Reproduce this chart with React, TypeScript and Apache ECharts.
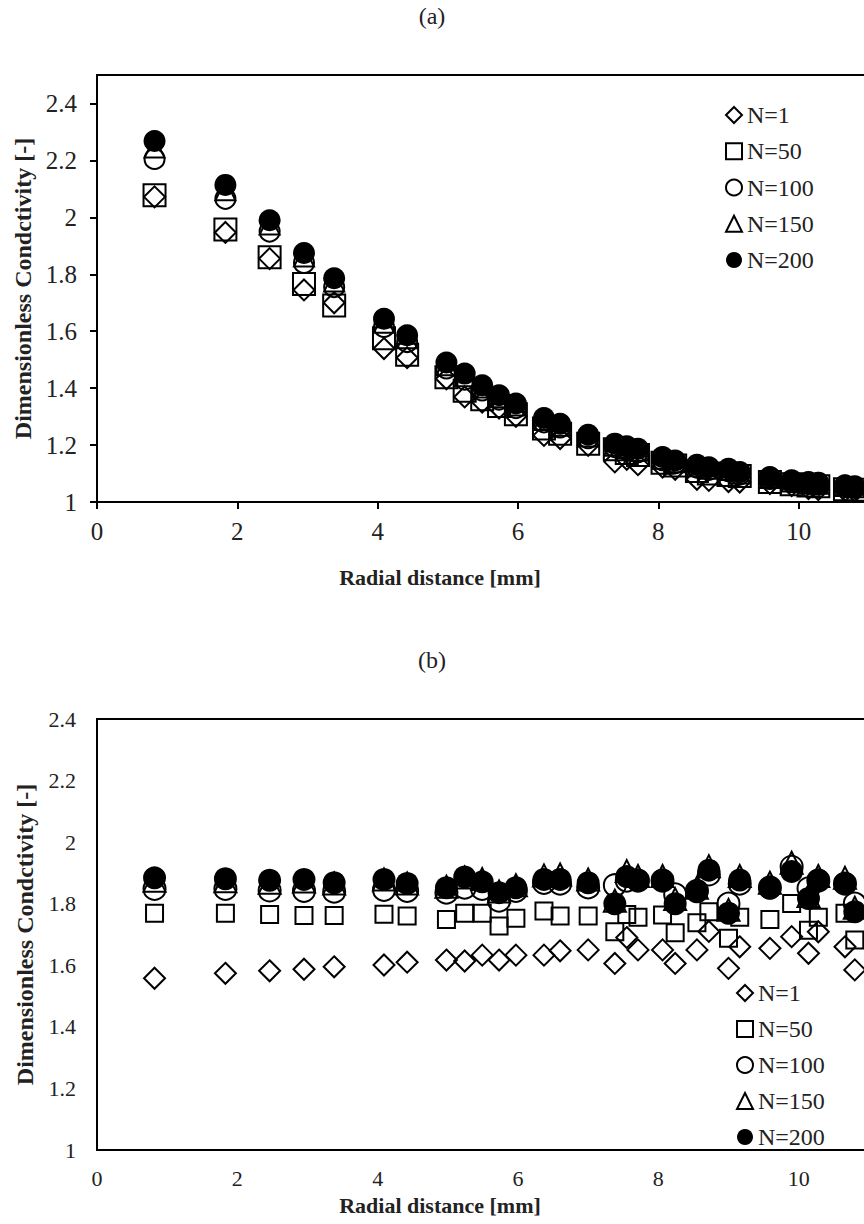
import React, { useEffect, useRef } from "react";
import * as echarts from "echarts";

// Radial distance [mm] of the measurement points (shared by both panels)
const radialDistance = [
  0.82, 1.83, 2.46, 2.95, 3.38, 4.09, 4.42, 4.98, 5.24, 5.49,
  5.73, 5.97, 6.37, 6.6, 7.0, 7.38, 7.55, 7.71, 8.06, 8.24,
  8.55, 8.72, 9.0, 9.16, 9.59, 9.9, 10.14, 10.28, 10.66, 10.8,
];

const seriesNames = ["N=1", "N=50", "N=100", "N=150", "N=200"];
const yTicks = [1, 1.2, 1.4, 1.6, 1.8, 2, 2.2, 2.4];
const xTicks = [0, 2, 4, 6, 8, 10];

// Panel (a)
const condA_N1 = [
  2.072, 1.947, 1.855, 1.745, 1.7, 1.539, 1.507, 1.433, 1.369, 1.351,
  1.33, 1.301, 1.234, 1.223, 1.199, 1.141, 1.15, 1.131, 1.123, 1.115,
  1.08, 1.076, 1.072, 1.07, 1.065, 1.058, 1.047, 1.044, 1.04, 1.038,
];
const condA_N50 = [
  2.078, 1.957, 1.86, 1.766, 1.69, 1.575, 1.517, 1.438, 1.391, 1.361,
  1.337, 1.308, 1.258, 1.24, 1.205, 1.185, 1.172, 1.165, 1.138, 1.128,
  1.109, 1.1, 1.095, 1.091, 1.07, 1.062, 1.058, 1.055, 1.045, 1.043,
];
const condA_N100 = [
  2.205, 2.065, 1.95, 1.84, 1.755, 1.615, 1.562, 1.469, 1.43, 1.392,
  1.36, 1.33, 1.28, 1.262, 1.224, 1.193, 1.184, 1.175, 1.147, 1.136,
  1.121, 1.113, 1.108, 1.097, 1.081, 1.07, 1.064, 1.062, 1.054, 1.05,
];
const condA_N150 = [
  2.245, 2.095, 1.975, 1.862, 1.775, 1.63, 1.575, 1.48, 1.442, 1.402,
  1.368, 1.339, 1.288, 1.268, 1.23, 1.198, 1.19, 1.18, 1.152, 1.14,
  1.126, 1.117, 1.112, 1.1, 1.084, 1.072, 1.066, 1.064, 1.056, 1.052,
];
const condA_N200 = [
  2.268, 2.114, 1.99, 1.875, 1.786, 1.644, 1.586, 1.49, 1.451, 1.41,
  1.375, 1.346, 1.295, 1.275, 1.236, 1.205, 1.196, 1.187, 1.158, 1.146,
  1.131, 1.122, 1.117, 1.105, 1.088, 1.076, 1.07, 1.068, 1.059, 1.055,
];

// Panel (b)
const condB_N1 = [
  1.558, 1.574, 1.582, 1.587, 1.595, 1.601, 1.61, 1.617, 1.614, 1.633,
  1.617, 1.633, 1.633, 1.647, 1.65, 1.606, 1.69, 1.65, 1.65, 1.606,
  1.65, 1.71, 1.59, 1.66, 1.655, 1.693, 1.639, 1.709, 1.66, 1.585,
];
const condB_N50 = [
  1.769, 1.769, 1.765, 1.762, 1.762, 1.766, 1.76, 1.749, 1.769, 1.769,
  1.728, 1.753, 1.776, 1.76, 1.76, 1.709, 1.765, 1.756, 1.763, 1.706,
  1.738, 1.774, 1.688, 1.756, 1.749, 1.801, 1.714, 1.756, 1.769, 1.682,
];
const condB_N100 = [
  1.848, 1.848, 1.843, 1.842, 1.839, 1.845, 1.842, 1.836, 1.852, 1.848,
  1.81, 1.842, 1.868, 1.865, 1.853, 1.86, 1.875, 1.875, 1.875, 1.83,
  1.842, 1.895, 1.8, 1.865, 1.853, 1.92, 1.85, 1.875, 1.865, 1.8,
];
const condB_N150 = [
  1.875, 1.873, 1.868, 1.872, 1.866, 1.879, 1.866, 1.855, 1.885, 1.88,
  1.84, 1.86, 1.892, 1.895, 1.879, 1.81, 1.906, 1.89, 1.89, 1.815,
  1.852, 1.922, 1.78, 1.89, 1.868, 1.933, 1.825, 1.89, 1.884, 1.787,
];
const condB_N200 = [
  1.884, 1.881, 1.876, 1.879, 1.868, 1.879, 1.866, 1.852, 1.887, 1.871,
  1.836, 1.852, 1.879, 1.879, 1.868, 1.8, 1.888, 1.877, 1.877, 1.8,
  1.839, 1.909, 1.769, 1.877, 1.85, 1.905, 1.817, 1.877, 1.866, 1.774,
];

const FONT = "Liberation Serif, serif";
const symbols = ["diamond", "rect", "circle", "triangle", "circle"];
const filled = [false, false, false, false, true];

export default function App() {
  const ref = useRef<HTMLDivElement>(null);

  useEffect(() => {
    if (!ref.current) return;
    const chart = echarts.init(ref.current, null, { renderer: "svg" });

    const dataA = [condA_N1, condA_N50, condA_N100, condA_N150, condA_N200];
    const dataB = [condB_N1, condB_N50, condB_N100, condB_N150, condB_N200];
    const sizesA = [21, 22, 20, 20, 22];
    const sizesB = [21, 17, 22, 22, 23];

    const makeSeries = (values: number[][], gi: number, sizes: number[]) =>
      seriesNames.map((name, k) => ({
        type: "scatter",
        name,
        xAxisIndex: gi,
        yAxisIndex: gi,
        symbol: symbols[k],
        symbolSize: sizes[k],
        data: radialDistance.map((x, i) => [x, values[k][i]]),
        itemStyle: filled[k]
          ? { color: "#000", opacity: 1 }
          : { color: "rgba(255,255,255,0)", borderColor: "#000", borderWidth: 2, opacity: 1 },
        emphasis: { disabled: true },
        silent: true,
      }));

    const axisLine = { show: true, onZero: false, lineStyle: { color: "#000", width: 2 } };

    const xAxisBase = (gi: number, withTicks: boolean, fs: number) => ({
      type: "value",
      gridIndex: gi,
      min: 0,
      max: 12,
      interval: 2,
      axisLine,
      axisTick: {
        show: withTicks,
        inside: false,
        length: 7,
        customValues: xTicks,
        lineStyle: { color: "#000", width: 2 },
      },
      axisLabel: { fontFamily: FONT, fontSize: fs, color: "#222", margin: 17, customValues: xTicks },
      splitLine: { show: false },
    });

    const yName = "Dimensionless Condctivity [-]";
    const yNameStyle = { fontFamily: FONT, fontWeight: "bold", fontSize: 24, color: "#222" };

    const legendText = { fontFamily: FONT, fontSize: 24, lineHeight: 24, color: "#222" };
    const txt = (text: string, x: number, y: number, font: string) => ({
      type: "text",
      x,
      y,
      style: {
        text,
        fill: "#222",
        font,
        align: "center",
        verticalAlign: "middle",
        textAlign: "center",
        textVerticalAlign: "middle",
      },
    });

    const option = {
      animation: false,
      backgroundColor: "#fff",
      grid: [
        { left: 97, top: 75, width: 842, height: 427, show: true, borderColor: "#000", borderWidth: 2 },
        { left: 97, top: 719, width: 842, height: 431, show: true, borderColor: "#000", borderWidth: 2 },
      ],
      xAxis: [xAxisBase(0, true, 25), xAxisBase(1, false, 22)],
      yAxis: [
        {
          type: "value",
          gridIndex: 0,
          min: 1,
          max: 2.5,
          interval: 0.2,
          axisLine,
          axisTick: {
            show: true,
            length: 7,
            customValues: yTicks,
            lineStyle: { color: "#000", width: 2 },
          },
          axisLabel: {
            fontFamily: FONT,
            fontSize: 25,
            color: "#222",
            margin: 20,
            customValues: yTicks,
          },
          splitLine: { show: false },
          name: yName,
          nameLocation: "middle",
          nameGap: 60,
          nameTextStyle: yNameStyle,
        },
        {
          type: "value",
          gridIndex: 1,
          min: 1,
          max: 2.4,
          interval: 0.2,
          axisLine,
          axisTick: { show: false },
          axisLabel: { fontFamily: FONT, fontSize: 22, color: "#222", margin: 21 },
          splitLine: { show: false },
          name: yName,
          nameLocation: "middle",
          nameGap: 60,
          nameTextStyle: yNameStyle,
        },
      ],
      legend: [
        {
          orient: "vertical",
          left: 725,
          top: 103,
          padding: 0,
          itemWidth: 16,
          itemHeight: 16,
          itemGap: 12.25,
          selectedMode: false,
          data: seriesNames,
          textStyle: legendText,
        },
        {
          orient: "vertical",
          left: 736,
          top: 981,
          padding: 0,
          itemWidth: 16,
          itemHeight: 16,
          itemGap: 12,
          selectedMode: false,
          data: seriesNames,
          textStyle: legendText,
        },
      ],
      graphic: [
        txt("(a)", 432, 16, `24px ${FONT}`),
        txt("(b)", 432, 660, `24px ${FONT}`),
        txt("Radial distance [mm]", 440, 577, `bold 22px ${FONT}`),
        txt("Radial distance [mm]", 440, 1205, `bold 22px ${FONT}`),
      ],
      series: [...makeSeries(dataA, 0, sizesA), ...makeSeries(dataB, 1, sizesB)],
    };

    chart.setOption(option as any);
    return () => chart.dispose();
  }, []);

  return (
    <div
      style={{
        position: "absolute",
        left: 0,
        top: 0,
        width: 864,
        height: 1224,
        overflow: "hidden",
        background: "#fff",
      }}
    >
      <div ref={ref} style={{ width: 1000, height: 1224 }} />
    </div>
  );
}
